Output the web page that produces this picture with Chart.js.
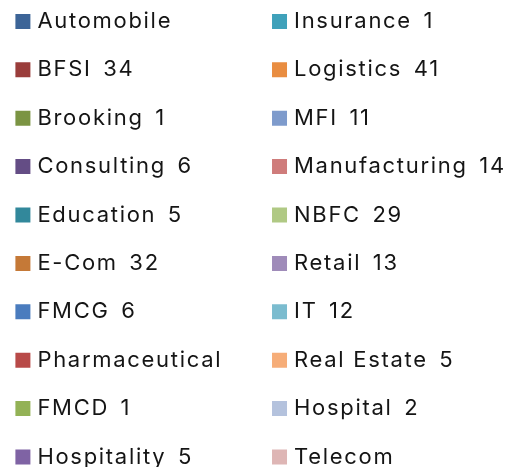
<!DOCTYPE html>
<html>
<head>
<meta charset="utf-8">
<script src="https://cdn.jsdelivr.net/npm/chart.js@4"></script>
<style>
  html, body { margin: 0; padding: 0; background: #ffffff; overflow: hidden; width: 513px; height: 467px; }
  #wrap { position: absolute; left: -7px; top: -16px; width: 1400px; height: 530px; }
</style>
</head>
<body>
<div id="wrap"><canvas id="c"></canvas></div>
<script>
const categories = ['Automobile', 'BFSI', 'Brooking', 'Consulting', 'Education', 'E-Com', 'FMCG', 'Pharmaceutical', 'FMCD', 'Hospitality',
                    'Insurance', 'Logistics', 'MFI', 'Manufacturing', 'NBFC', 'Retail', 'IT', 'Real Estate', 'Hospital', 'Telecom'];
const counts = [null, 34, 1, 6, 5, 32, 6, null, 1, 5,
                1, 41, 11, 14, 29, 13, 12, 5, 2, null];
const colors = ['#3C6497', '#9A3D3B', '#7B9443', '#644D85', '#32889B', '#C57937', '#4A7CBE', '#B84A48', '#93B256', '#7F63A4',
                '#3FA1BA', '#E98D41', '#7E9BCC', '#CF7C7B', '#B0C984', '#9F8BB9', '#7BBCCF', '#F6AD78', '#B4C2DD', '#DEB6B5'];

const labels = categories.map((c, i) => counts[i] === null ? c + '   \u200A' : c + ' \u200A' + counts[i]);

const LETTER_SPACING = '1.7px';
const spacingPlugin = {
  id: 'spacing',
  beforeLayout(chart) { chart.ctx.letterSpacing = LETTER_SPACING; },
  beforeDraw(chart) { chart.ctx.letterSpacing = LETTER_SPACING; }
};

new Chart(document.getElementById('c'), {
  type: 'pie',
  data: {
    labels: labels,
    datasets: [{ data: counts, backgroundColor: colors, borderWidth: 0 }]
  },
  options: {
    responsive: true,
    maintainAspectRatio: false,
    animation: false,
    plugins: {
      tooltip: { enabled: false },
      legend: {
        position: 'left',
        align: 'start',
        maxWidth: 700,
        labels: {
          usePointStyle: true,
          pointStyle: 'rect',
          boxWidth: 7,
          boxHeight: 15,
          padding: 26.4,
          color: '#151515',
          font: { family: 'Inter', size: 22, weight: '400' }
        }
      }
    }
  },
  plugins: [spacingPlugin]
});
</script>
</body>
</html>
